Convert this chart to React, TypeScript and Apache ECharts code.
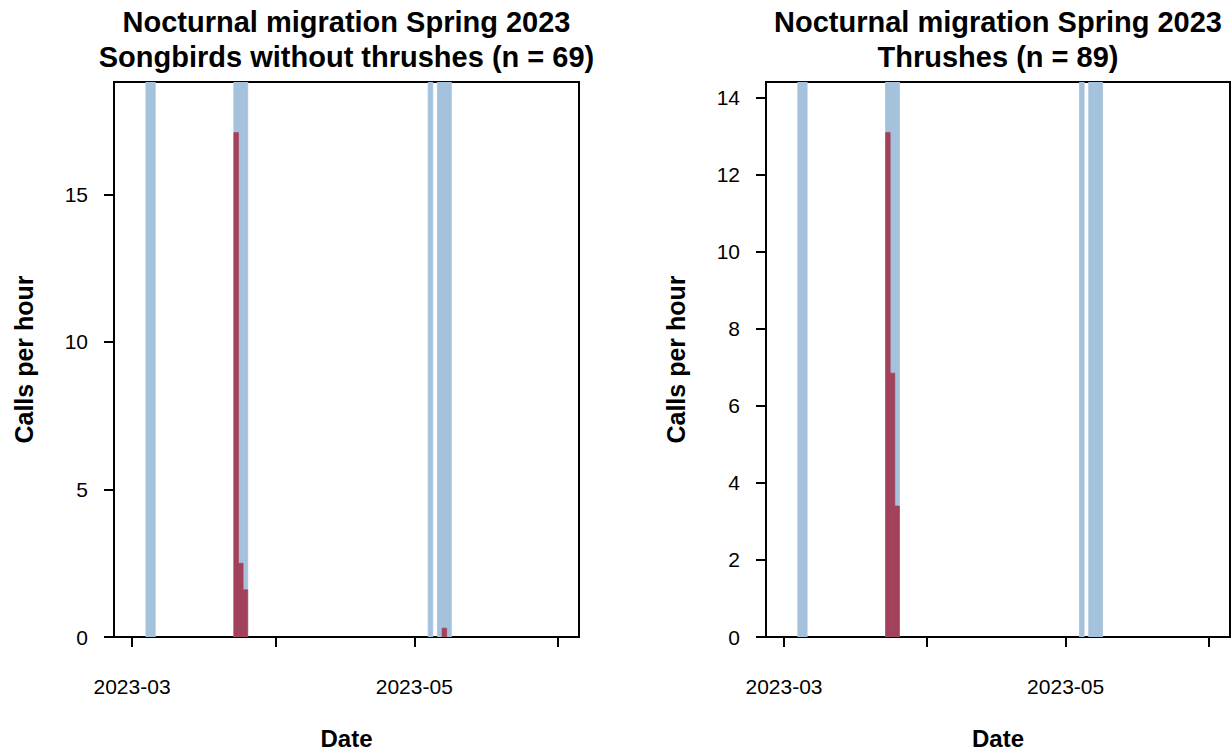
import React, { useEffect, useRef } from "react";
import * as echarts from "echarts";

// ---- data ----
const recordingNights = [
  "2023-03-04", "2023-03-05",
  "2023-03-23", "2023-03-24", "2023-03-25",
  "2023-05-04",
  "2023-05-06", "2023-05-07", "2023-05-08",
];

const songbirdDates = ["2023-03-23", "2023-03-24", "2023-03-25", "2023-05-07"];
const songbirdCalls = [17.1, 2.5, 1.6, 0.3];

const thrushDates = ["2023-03-23", "2023-03-24", "2023-03-25"];
const thrushCalls = [13.1, 6.85, 3.4];

const xTickDates = ["2023-03-01", "2023-04-01", "2023-05-01", "2023-06-01"];
const xLabelDates = ["2023-03-01", "2023-05-01"];
const songbirdYTicks = [0, 5, 10, 15];
const thrushYTicks = [0, 2, 4, 6, 8, 10, 12, 14];

const leftTitle = "Nocturnal migration Spring 2023\nSongbirds without thrushes (n = 69)";
const rightTitle = "Nocturnal migration Spring 2023\nThrushes (n = 89)";

// ---- helpers ----
const ORIGIN = Date.UTC(2023, 2, 1);
function dayIndex(s: string): number {
  const [y, m, d] = s.split("-").map(Number);
  return (Date.UTC(y, m - 1, d) - ORIGIN) / 86400000;
}
function labelFor(v: number): string {
  const found = xTickDates.find((s) => Math.abs(dayIndex(s) - v) < 0.01);
  return found ? found.slice(0, 7) : "";
}

const BLUE = "#a5c2dc";
const RED = "#a3405a";
const FONT = "Liberation Sans, Arial, sans-serif";

export default function App() {
  const ref = useRef<HTMLDivElement>(null);

  useEffect(() => {
    if (!ref.current) return;
    const chart = echarts.init(ref.current, undefined, { renderer: "svg" });

    const bandRender = (params: any, api: any) => {
      const d = api.value(0);
      const p0 = api.coord([d, 0]);
      const p1 = api.coord([d + 1, 0]);
      const cs = params.coordSys;
      return {
        type: "rect",
        shape: { x: p0[0], y: cs.y, width: p1[0] - p0[0], height: cs.height },
        style: { fill: BLUE, stroke: BLUE, lineWidth: 0.8 },
      };
    };
    const barRender = (params: any, api: any) => {
      const d = api.value(0);
      const v = api.value(1);
      const p0 = api.coord([d, 0]);
      const p1 = api.coord([d + 1, v]);
      return {
        type: "rect",
        shape: { x: p0[0], y: p1[1], width: p1[0] - p0[0], height: p0[1] - p1[1] },
        style: { fill: RED, stroke: RED, lineWidth: 0.6 },
      };
    };

    const xAxisBase = (gridIndex: number) => ({
      type: "value",
      gridIndex,
      min: -3.9,
      max: 96.6,
      name: "Date",
      nameLocation: "middle",
      nameGap: 89,
      nameTextStyle: { fontFamily: FONT, fontSize: 24, fontWeight: "bold", color: "#000" },
      axisLine: { show: false, onZero: false },
      splitLine: { show: false },
      axisTick: {
        show: true,
        length: 10,
        lineStyle: { color: "#000", width: 2 },
        customValues: xTickDates.map(dayIndex),
      },
      axisLabel: {
        margin: 39,
        fontFamily: FONT,
        fontSize: 21,
        color: "#000",
        customValues: xLabelDates.map(dayIndex),
        formatter: (v: number) => labelFor(v),
      },
    });

    const yAxisBase = (gridIndex: number, max: number, ticks: number[]) => ({
      type: "value",
      gridIndex,
      min: 0,
      max,
      name: "Calls per hour",
      nameLocation: "middle",
      nameGap: 78,
      nameTextStyle: { fontFamily: FONT, fontSize: 25, fontWeight: "bold", color: "#000" },
      axisLine: { show: false, onZero: false },
      splitLine: { show: false },
      axisTick: {
        show: true,
        length: 10,
        lineStyle: { color: "#000", width: 2 },
        customValues: ticks,
      },
      axisLabel: {
        margin: 26,
        fontFamily: FONT,
        fontSize: 21,
        color: "#000",
        customValues: ticks,
      },
    });

    const songMax = Math.max(...songbirdCalls) * 1.1;
    const thrushMax = Math.max(...thrushCalls) * 1.1;

    chart.setOption({
      animation: false,
      backgroundColor: "#fff",
      title: [
        {
          text: leftTitle,
          left: 346.5,
          top: 4,
          padding: 0,
          textAlign: "center",
          textStyle: { fontFamily: FONT, fontSize: 29, fontWeight: "bold", color: "#000", lineHeight: 35 },
        },
        {
          text: rightTitle,
          left: 998,
          top: 4,
          padding: 0,
          textAlign: "center",
          textStyle: { fontFamily: FONT, fontSize: 29, fontWeight: "bold", color: "#000", lineHeight: 35 },
        },
      ],
      grid: [
        { left: 114, top: 82, width: 465, height: 561, show: true, borderColor: "#000", borderWidth: 2, backgroundColor: "transparent" },
        { left: 766, top: 82, width: 464, height: 561, show: true, borderColor: "#000", borderWidth: 2, backgroundColor: "transparent" },
      ],
      xAxis: [xAxisBase(0), xAxisBase(1)],
      yAxis: [
        yAxisBase(0, songMax, songbirdYTicks),
        yAxisBase(1, thrushMax, thrushYTicks),
      ],
      series: [
        {
          type: "custom",
          xAxisIndex: 0,
          yAxisIndex: 0,
          renderItem: bandRender,
          encode: { x: 0, y: 1 },
          data: recordingNights.map((s) => [dayIndex(s), 0]),
          clip: true,
          z: 1,
        },
        {
          type: "custom",
          xAxisIndex: 0,
          yAxisIndex: 0,
          renderItem: barRender,
          encode: { x: 0, y: 1 },
          data: songbirdDates.map((s, i) => [dayIndex(s), songbirdCalls[i]]),
          clip: true,
          z: 2,
        },
        {
          type: "custom",
          xAxisIndex: 1,
          yAxisIndex: 1,
          renderItem: bandRender,
          encode: { x: 0, y: 1 },
          data: recordingNights.map((s) => [dayIndex(s), 0]),
          clip: true,
          z: 1,
        },
        {
          type: "custom",
          xAxisIndex: 1,
          yAxisIndex: 1,
          renderItem: barRender,
          encode: { x: 0, y: 1 },
          data: thrushDates.map((s, i) => [dayIndex(s), thrushCalls[i]]),
          clip: true,
          z: 2,
        },
      ],
    });

    return () => chart.dispose();
  }, []);

  return (
    <div
      ref={ref}
      style={{ position: "absolute", left: 0, top: 0, width: 1231, height: 755 }}
    />
  );
}
